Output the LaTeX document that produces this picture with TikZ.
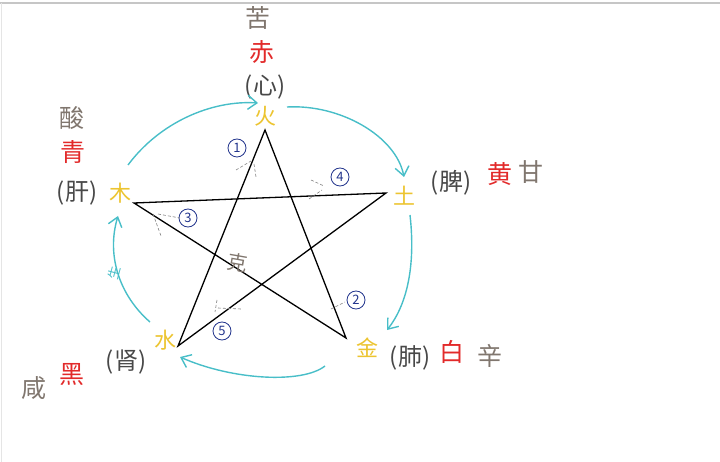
\documentclass[tikz,border=0pt]{standalone}
\usepackage{fontspec}
\setmainfont{Noto Sans CJK SC}
\usetikzlibrary{arrows.meta}
\definecolor{gencyan}{RGB}{72,190,200}
\definecolor{elemyellow}{RGB}{236,196,48}
\definecolor{tastegray}{RGB}{128,118,110}
\definecolor{huered}{RGB}{226,42,42}
\definecolor{numblue}{RGB}{34,52,140}
\definecolor{organgray}{RGB}{72,72,72}

\begin{document}
\begin{tikzpicture}[x=1pt, y=-1pt,
  elem/.style={text=elemyellow, font=\fontsize{22}{22}\selectfont},
  taste/.style={text=tastegray, font=\fontsize{25}{25}\selectfont},
  hue/.style={text=huered, font=\fontsize{25}{25}\selectfont},
  organ/.style={text=organgray, font=\fontsize{24}{24}\selectfont},
  num/.style={circle, draw=numblue, thick, text=numblue, inner sep=0.6pt, minimum size=18pt, font=\fontsize{13}{13}\selectfont},
  gen/.style={gencyan, line width=1.4pt, -{Straight Barb[length=9pt, width=14pt]}},
  anglemark/.style={gray, densely dashed, line width=0.6pt},
  pentagram/.style={black, line width=1.3pt, line join=miter}]
  \useasboundingbox (0,0) rectangle (720,462);
  \draw[gray!45, line width=1.5pt] (0,3) -- (720,3);
  \draw[gray!20, line width=1pt] (1,3) -- (1,462);

  \coordinate (v1) at (265,130);
  \coordinate (v2) at (386,193);
  \coordinate (v3) at (346,338);
  \coordinate (v4) at (178,346);
  \coordinate (v5) at (134,203);
  \draw[pentagram] (v1) -- (v3) -- (v5) -- (v2) -- (v4) -- cycle;

  \node[elem] (huo) at (265,116) {火};
  \node[elem] (tu) at (404,196) {土};
  \node[elem] (jin) at (367,348) {金};
  \node[elem] (shui) at (165,340) {水};
  \node[elem] (mu) at (120,193) {木};

  \node[taste] (ku) at (258,18) {苦};
  \node[hue] (chi) at (262,52) {赤};
  \node[organ] (xin) at (265,87) {(心)};
  \node[taste] (suan) at (72,118) {酸};
  \node[hue] (qing) at (73,152) {青};
  \node[organ] (gan) at (77,193) {(肝)};
  \node[organ] (pi) at (451,183) {(脾)};
  \node[hue] (huang) at (500,174) {黄};
  \node[taste] (gantaste) at (531,172) {甘};
  \node[organ] (fei) at (410,358) {(肺)};
  \node[hue] (bai) at (452,352) {白};
  \node[taste] (xinw) at (490,356) {辛};
  \node[organ] (shen) at (126,362) {(肾)};
  \node[hue] (hei) at (72,375) {黑};
  \node[taste] (xian) at (34,388) {咸};
  \node[taste, rotate=-10, font=\fontsize{20}{20}\selectfont] (ke) at (238,263) {克};

  \node[num] (n1) at (237,148) {1};
  \node[num] (n4) at (340,177) {4};
  \node[num] (n2) at (356,300) {2};
  \node[num] (n3) at (188,218) {3};
  \node[num] (n5) at (222,331) {5};

  \coordinate (g1s) at (128,165);
  \coordinate (g1e) at (258,103);
  \coordinate (g2s) at (287,107);
  \coordinate (g2e) at (404,177);
  \coordinate (g3s) at (410,215);
  \coordinate (g3e) at (387,330);
  \coordinate (g4s) at (325,366);
  \coordinate (g4e) at (180,357);
  \coordinate (g5s) at (150,322);
  \coordinate (g5e) at (118,216);
  \draw[gen] (g1s) .. controls (160,122) and (212,100) .. (g1e);
  \draw[gen] (g2s) .. controls (340,104) and (396,136) .. (g2e);
  \draw[gen] (g3s) .. controls (416,268) and (406,306) .. (g3e);
  \draw[gen] (g4s) .. controls (302,384) and (232,380) .. (g4e);
  \draw[gen] (g5s) .. controls (120,296) and (106,256) .. (g5e);
  \node[text=gencyan, rotate=75, font=\fontsize{13}{13}\selectfont] (sheng) at (114,273) {生};

  \draw[anglemark] (236,170) -- (251,161);
  \draw[anglemark] (254,164) -- (256,177);
  \draw[anglemark] (309,199) -- (322,190);
  \draw[anglemark] (311,180) -- (324,186);
  \draw[anglemark] (153,214) -- (161,236);
  \draw[anglemark] (158,214) -- (180,218);
  \draw[anglemark] (217,300) -- (215,312);
  \draw[anglemark] (218,308) -- (241,309);
  \draw[anglemark] (331,309) -- (345,302);
\end{tikzpicture}
\end{document}
